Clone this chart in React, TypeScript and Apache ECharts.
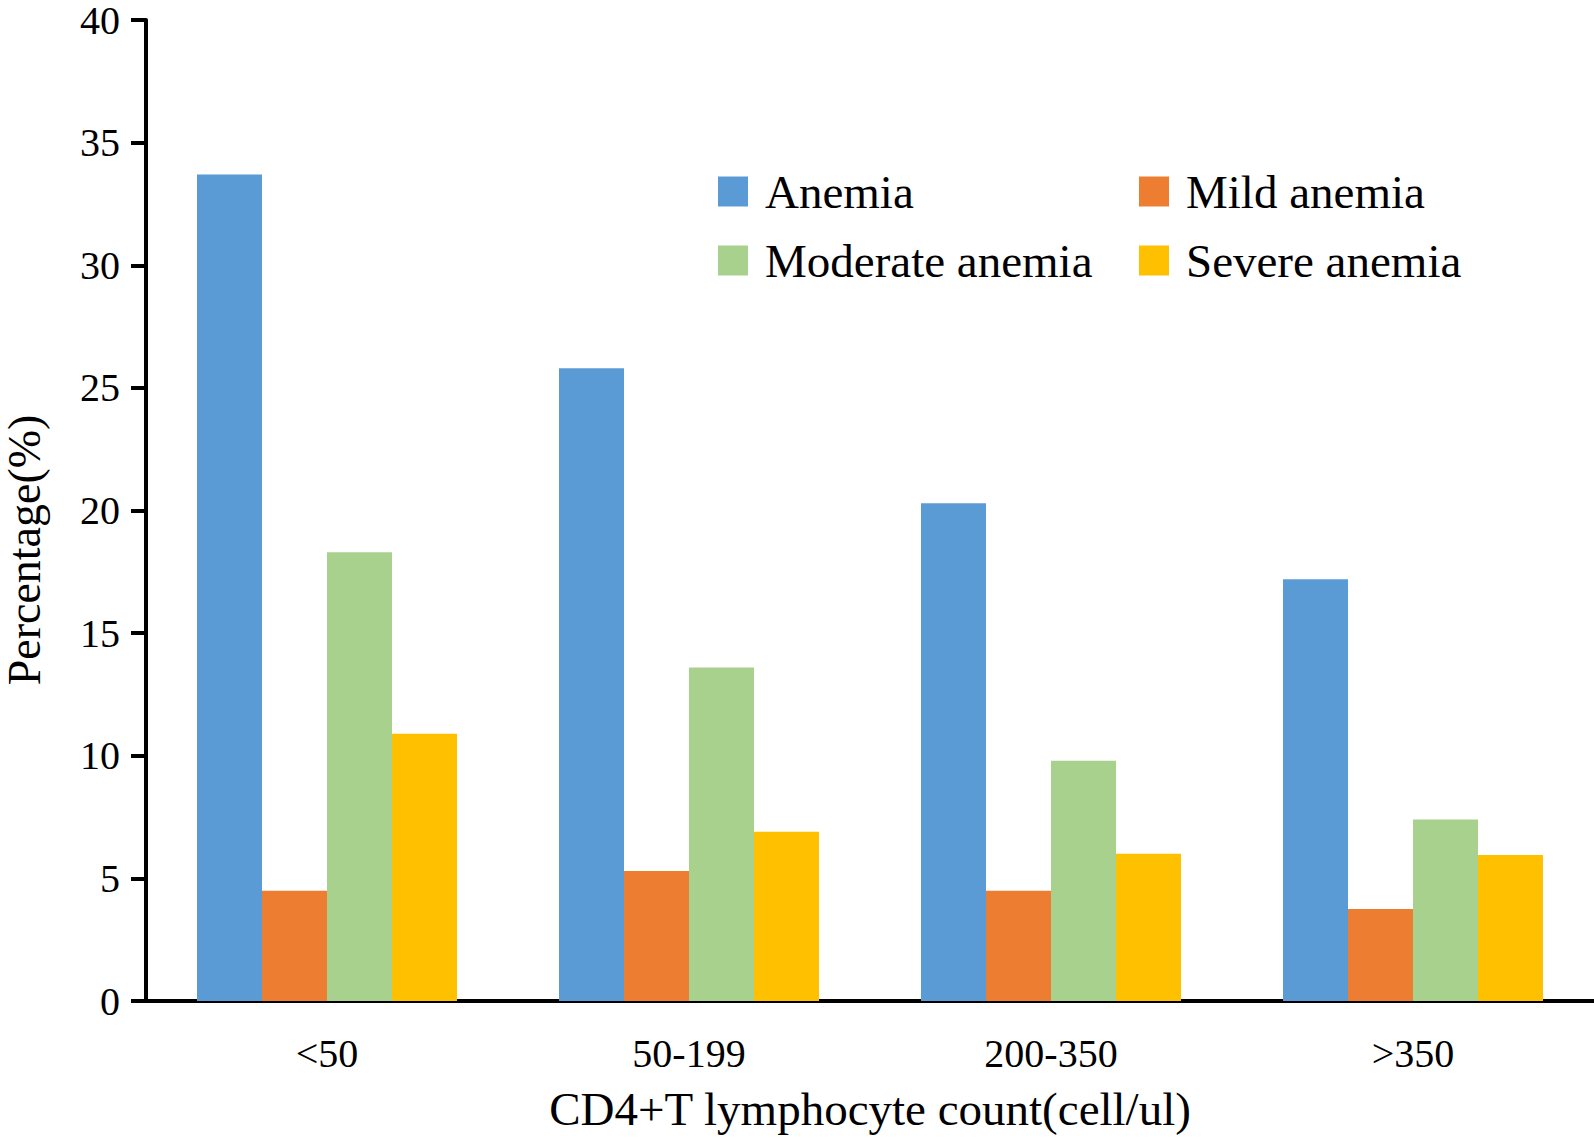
import React, { useEffect, useRef } from "react";
import * as echarts from "echarts";

const categories = ["<50", "50-199", "200-350", ">350"];
const anemia = [33.7, 25.8, 20.3, 17.2];
const mildAnemia = [4.5, 5.3, 4.5, 3.75];
const moderateAnemia = [18.3, 13.6, 9.8, 7.4];
const severeAnemia = [10.9, 6.9, 6.0, 5.95];
const yTicks = { min: 0, max: 40, interval: 5 };

const FONT = "'Liberation Serif', 'Times New Roman', serif";

export default function App() {
  const ref = useRef<HTMLDivElement>(null);
  useEffect(() => {
    if (!ref.current) return;
    const chart = echarts.init(ref.current, null, { renderer: "svg" });
    const mk = (name: string, data: number[], color: string) => ({
      name,
      type: "bar",
      data,
      barWidth: 65,
      barGap: "0%",
      itemStyle: { color },
    });
    const legendText = {
      fontFamily: FONT,
      fontSize: 47,
      color: "#000",
      lineHeight: 47,
      padding: [0, 0, 0, 12],
    };
    chart.setOption({
      animation: false,
      backgroundColor: "#ffffff",
      textStyle: { fontFamily: FONT },
      grid: { left: 146, right: 0, top: 15, bottom: 137, containLabel: false },
      legend: [
        {
          data: ["Anemia", "Moderate anemia"],
          orient: "vertical",
          left: 713,
          top: 163,
          icon: "rect",
          itemWidth: 30,
          itemHeight: 30,
          itemGap: 22,
          textStyle: legendText,
        },
        {
          data: ["Mild anemia", "Severe anemia"],
          orient: "vertical",
          left: 1134,
          top: 163,
          icon: "rect",
          itemWidth: 30,
          itemHeight: 30,
          itemGap: 22,
          textStyle: legendText,
        },
      ],
      xAxis: {
        type: "category",
        data: categories,
        axisLine: { show: true, lineStyle: { color: "#000", width: 4 } },
        axisTick: { show: false },
        axisLabel: { fontFamily: FONT, fontSize: 40, color: "#000", margin: 32 },
        name: "CD4+T lymphocyte count(cell/ul)",
        nameLocation: "middle",
        nameGap: 84,
        nameTextStyle: { fontFamily: FONT, fontSize: 47, color: "#000" },
      },
      yAxis: {
        type: "value",
        min: yTicks.min,
        max: yTicks.max,
        interval: yTicks.interval,
        axisLine: { show: true, lineStyle: { color: "#000", width: 4 } },
        axisTick: { show: true, length: 15, lineStyle: { color: "#000", width: 4 } },
        axisLabel: { fontFamily: FONT, fontSize: 40, color: "#000", margin: 26, lineHeight: 22 },
        splitLine: { show: false },
      },
      graphic: [
        {
          type: "text",
          x: 24,
          y: 550,
          rotation: Math.PI / 2,
          style: {
            text: "Percentage(%)",
            font: `46px ${FONT}`,
            fill: "#000",
            align: "center",
            verticalAlign: "middle",
          },
        },
      ],
      series: [
        mk("Anemia", anemia, "#5B9BD5"),
        mk("Mild anemia", mildAnemia, "#ED7D31"),
        mk("Moderate anemia", moderateAnemia, "#A9D18E"),
        mk("Severe anemia", severeAnemia, "#FFC000"),
      ],
    });
    return () => chart.dispose();
  }, []);
  return (
    <div
      ref={ref}
      style={{ position: "absolute", left: 0, top: 0, width: 1594, height: 1138 }}
    />
  );
}
